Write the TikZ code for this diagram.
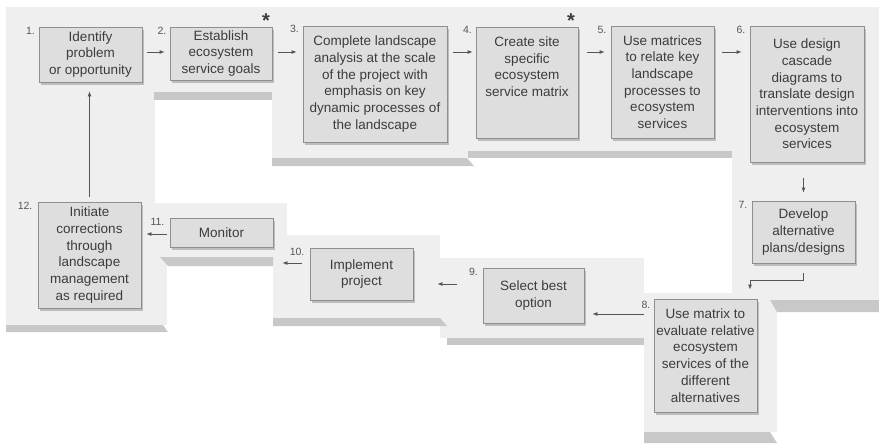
\documentclass[tikz,border=0pt]{standalone}
\usepackage{fontspec}
\setmainfont{Liberation Sans}
\usetikzlibrary{arrows.meta,shadows}

\definecolor{slab}{HTML}{EFEFEF}
\definecolor{slabedge}{HTML}{C8C8C8}
\definecolor{boxfill}{HTML}{DEDEDE}
\definecolor{boxline}{HTML}{8F8F8F}
\definecolor{boxshade}{HTML}{BDBDBD}
\definecolor{ink}{HTML}{3C3C3C}
\definecolor{numink}{HTML}{555555}
\definecolor{arrowc}{HTML}{555555}

\begin{document}
\begin{tikzpicture}[x=1pt,y=-1pt,
  stepbox/.style={draw=boxline, line width=0.8pt, fill=boxfill, inner sep=0pt,
    align=center, text=ink, font=\fontsize{13.5}{16.7}\selectfont,
    drop shadow={shadow xshift=1.5pt, shadow yshift=-3pt, fill=boxshade, opacity=1}},
  num/.style={inner sep=0pt, anchor=north east, text=numink,
    font=\fontsize{10.5}{12}\selectfont},
  starmark/.style={inner sep=0pt, text=ink, font=\fontsize{20}{20}\selectfont\bfseries},
  arr/.style={draw=arrowc, line width=0.8pt, -{Latex[length=5pt,width=4pt]}}
]
\useasboundingbox (0,0) rectangle (879,445);

% stepped platforms behind the boxes
\fill[slab] (6,7) rectangle (879,92);
\fill[slab] (6,7) rectangle (155,325);
\fill[slab] (155,257) rectangle (167,325);
\fill[slab] (272,7) rectangle (470,158);
\fill[slab] (470,7) rectangle (732,151);
\fill[slab] (732,7) rectangle (879,300);
\fill[slab] (155,203) rectangle (287,257);
\fill[slab] (273,235) rectangle (440,318);
\fill[slab] (440,258) rectangle (644,338);
\fill[slab] (644,293) rectangle (777,432);

% front edges of the platforms
\fill[slabedge] (154,92) rectangle (272,100);
\fill[slabedge] (272,158) -- (467,158) -- (474,166) -- (272,166) -- cycle;
\fill[slabedge] (468,151) rectangle (732,158);
\fill[slabedge] (770,300) -- (879,300) -- (879,312) -- (777,312) -- cycle;
\fill[slabedge] (644,432) -- (770,432) -- (777,443) -- (644,443) -- cycle;
\fill[slabedge] (447,338) rectangle (644,345);
\fill[slabedge] (273,318) -- (440,318) -- (447,326) -- (273,326) -- cycle;
\fill[slabedge] (160,257) -- (273,257) -- (273,266) -- (168,266) -- cycle;
\fill[slabedge] (6,325) -- (163,325) -- (168,332) -- (6,332) -- cycle;

% process steps
\node[stepbox, minimum width=103pt, minimum height=55pt] (b1) at (90.5,54.5)
  {Identify\\problem\\or opportunity};
\node[stepbox, minimum width=102pt, minimum height=53pt] (b2) at (221,53.5)
  {Establish\\ecosystem\\service goals};
\node[stepbox, minimum width=144pt, minimum height=116pt] (b3) at (375,84)
  {Complete landscape\\analysis at the scale\\of the project with\\emphasis on key\\dynamic processes of\\the landscape};
\node[stepbox, minimum width=102pt, minimum height=111pt, text height=60pt, text depth=32pt] (b4) at (527,82.5)
  {Create site\\specific\\ecosystem\\service matrix};
\node[stepbox, minimum width=103pt, minimum height=112pt] (b5) at (662.5,82)
  {Use matrices\\to relate key\\landscape\\processes to\\ecosystem\\services};
\node[stepbox, minimum width=114pt, minimum height=136pt] (b6) at (807,94)
  {Use design\\cascade\\diagrams to\\translate design\\interventions into\\ecosystem\\services};
\node[stepbox, minimum width=103pt, minimum height=62pt] (b7) at (803.5,232)
  {Develop\\alternative\\plans/designs};
\node[stepbox, minimum width=103pt, minimum height=113pt] (b8) at (705.5,355.5)
  {Use matrix to\\evaluate relative\\ecosystem\\services of the\\different\\alternatives};
\node[stepbox, minimum width=101pt, minimum height=55pt] (b9) at (533.5,295.5)
  {Select best\\option};
\node[stepbox, minimum width=103pt, minimum height=52pt] (b10) at (361.5,274)
  {Implement\\project};
\node[stepbox, minimum width=103pt, minimum height=29pt] (b11) at (221.5,232.5)
  {Monitor};
\node[stepbox, minimum width=103pt, minimum height=106pt] (b12) at (89.5,255)
  {Initiate\\corrections\\through\\landscape\\management\\as required};

% step numbers
\node[num] (n1) at ([xshift=-3.5pt]b1.north west) {1.};
\node[num] (n2) at ([xshift=-3pt]b2.north west) {2.};
\node[num] (n3) at ([xshift=-3.5pt,yshift=1pt]b3.north west) {3.};
\node[num] (n4) at ([xshift=-3.5pt,yshift=1pt]b4.north west) {4.};
\node[num] (n5) at ([xshift=-4pt]b5.north west) {5.};
\node[num] (n6) at ([xshift=-4pt]b6.north west) {6.};
\node[num] (n7) at ([xshift=-4pt]b7.north west) {7.};
\node[num] (n8) at ([xshift=-3pt,yshift=-2pt]b8.north west) {8.};
\node[num] (n9) at ([xshift=-4.5pt]b9.north west) {9.};
\node[num] (n10) at ([xshift=-5pt]b10.north west) {10.};
\node[num] (n11) at ([xshift=-5pt]b11.north west) {11.};
\node[num] (n12) at ([xshift=-5pt]b12.north west) {12.};

% key steps
\node[starmark] (s2) at (266,21) {*};
\node[starmark] (s4) at (571,21) {*};

% flow
\coordinate (rowA) at (0,52);
\coordinate (rowB) at (0,314);
\coordinate (rowC) at (0,284);
\coordinate (rowD) at (0,263);
\coordinate (rowE) at (0,234);
\draw[arr, shorten <=5pt, shorten >=5pt] (b1.east |- rowA) -- (b2.west |- rowA);
\draw[arr, shorten <=6pt, shorten >=6pt] (b2.east |- rowA) -- (b3.west |- rowA);
\draw[arr, shorten <=6pt, shorten >=3pt] (b3.east |- rowA) -- (b4.west |- rowA);
\draw[arr, shorten <=9pt, shorten >=6pt] (b4.east |- rowA) -- (b5.west |- rowA);
\draw[arr, shorten <=8pt, shorten >=8pt] (b5.east |- rowA) -- (b6.west |- rowA);
\draw[arr, shorten <=16pt, shorten >=8pt] (b6.south -| b7.north) -- (b7.north);
\draw[arr] ([yshift=-10pt]b7.south) -- ++(0,7) -| ([xshift=44.5pt,yshift=9pt]b8.north);
\draw[arr, shorten <=10pt, shorten >=8pt] (b8.west |- rowB) -- (b9.east |- rowB);
\draw[arr, shorten <=26pt, shorten >=24pt] (b9.west |- rowC) -- (b10.east |- rowC);
\draw[arr, shorten <=8pt, shorten >=9pt] (b10.west |- rowD) -- (b11.east |- rowD);
\draw[arr, shorten <=3pt, shorten >=5pt] (b11.west |- rowE) -- (b12.east |- rowE);
\draw[arr, shorten <=5pt, shorten >=9pt] (b12.north) -- (b12.north |- b1.south);
\end{tikzpicture}
\end{document}
